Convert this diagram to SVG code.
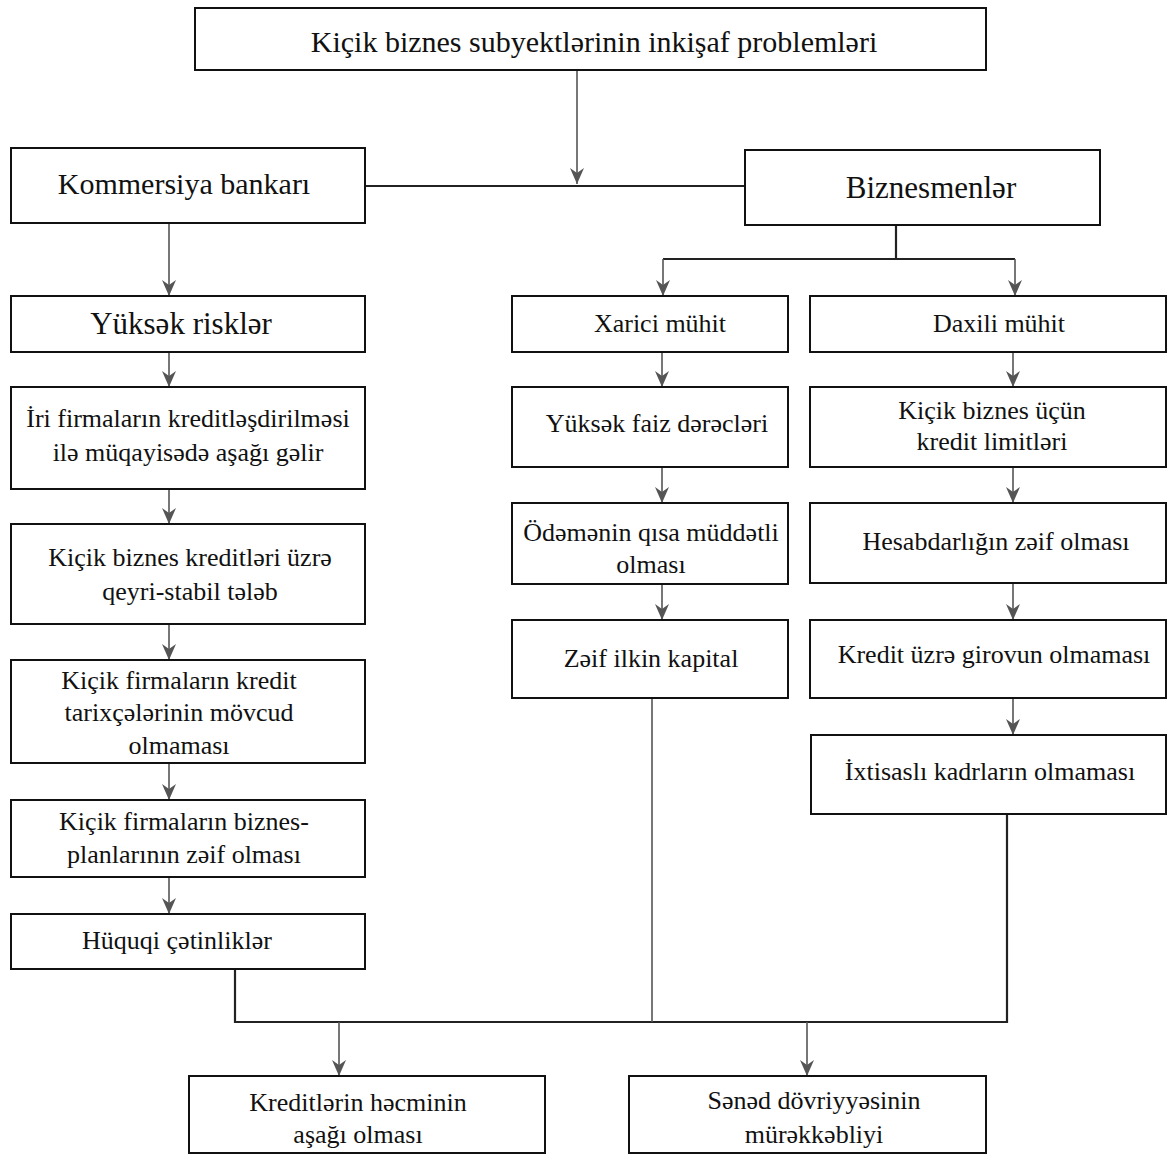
<svg xmlns="http://www.w3.org/2000/svg" width="1168" height="1155" viewBox="0 0 1168 1155">
<defs>
<style>
.box{fill:#fff;stroke:#111;stroke-width:2}
.t{font-family:"Liberation Serif","Times New Roman",serif;fill:#111;text-anchor:middle}
.f30{font-size:30px}
.f31{font-size:31px}
.f26{font-size:26px}
.c{fill:none;stroke:#555;stroke-width:1.6}
.k{fill:none;stroke:#222;stroke-width:2.2}
</style>
<marker id="ar" markerUnits="userSpaceOnUse" markerWidth="16" markerHeight="14" refX="16" refY="7" orient="auto" viewBox="0 0 16 14">
<path d="M0,0 L5,7 L0,14 L16,7 Z" fill="#555"/>
</marker>
</defs>
<rect width="1168" height="1155" fill="#fff"/>
<g id="connectors">
<path class="c" d="M577,70 V184" marker-end="url(#ar)"/>
<path class="k" d="M365,186 H745"/>
<path class="c" d="M169,223 V296" marker-end="url(#ar)"/>
<path class="k" d="M896,225 V259 M663,259 H1015"/>
<path class="c" d="M663,259 V296" marker-end="url(#ar)"/>
<path class="c" d="M1015,259 V296" marker-end="url(#ar)"/>
<path class="c" d="M169,352 V387" marker-end="url(#ar)"/>
<path class="c" d="M169,489 V524" marker-end="url(#ar)"/>
<path class="c" d="M169,624 V660" marker-end="url(#ar)"/>
<path class="c" d="M169,763 V800" marker-end="url(#ar)"/>
<path class="c" d="M169,877 V914" marker-end="url(#ar)"/>
<path class="c" d="M662,352 V387" marker-end="url(#ar)"/>
<path class="c" d="M662,467 V503" marker-end="url(#ar)"/>
<path class="c" d="M662,584 V620" marker-end="url(#ar)"/>
<path class="c" d="M1013,352 V387" marker-end="url(#ar)"/>
<path class="c" d="M1013,467 V503" marker-end="url(#ar)"/>
<path class="c" d="M1013,583 V620" marker-end="url(#ar)"/>
<path class="c" d="M1013,698 V735" marker-end="url(#ar)"/>
<path class="k" d="M235,969 V1022 H1007 V813"/>
<path class="c" d="M652,698 V1022"/>
<path class="c" d="M339,1022 V1076" marker-end="url(#ar)"/>
<path class="c" d="M807,1022 V1076" marker-end="url(#ar)"/>
</g>
<g id="n-top"><rect class="box" x="195" y="8" width="791" height="62"/><text class="t f30" x="594" y="52">Kiçik biznes subyektlərinin inkişaf problemləri</text></g>
<g id="n-bank"><rect class="box" x="11" y="148" width="354" height="75"/><text class="t f30" x="184" y="194">Kommersiya bankarı</text></g>
<g id="n-biz"><rect class="box" x="745" y="150" width="355" height="75"/><text class="t f31" x="931" y="198">Biznesmenlər</text></g>
<g id="n-risk"><rect class="box" x="11" y="296" width="354" height="56"/><text class="t f31" x="181" y="334">Yüksək risklər</text></g>
<g id="n-l2"><rect class="box" x="11" y="387" width="354" height="102"/><text class="t f26" x="188" y="427">İri firmaların kreditləşdirilməsi</text><text class="t f26" x="188" y="461">ilə müqayisədə aşağı gəlir</text></g>
<g id="n-l3"><rect class="box" x="11" y="524" width="354" height="100"/><text class="t f26" x="190" y="566">Kiçik biznes kreditləri üzrə</text><text class="t f26" x="190" y="600">qeyri-stabil tələb</text></g>
<g id="n-l4"><rect class="box" x="11" y="660" width="354" height="103"/><text class="t f26" x="179" y="689">Kiçik firmaların kredit</text><text class="t f26" x="179" y="721">tarixçələrinin mövcud</text><text class="t f26" x="179" y="754">olmaması</text></g>
<g id="n-l5"><rect class="box" x="11" y="800" width="354" height="77"/><text class="t f26" x="184" y="830">Kiçik firmaların biznes-</text><text class="t f26" x="184" y="863">planlarının zəif olması</text></g>
<g id="n-l6"><rect class="box" x="11" y="914" width="354" height="55"/><text class="t f26" x="177" y="949">Hüquqi çətinliklər</text></g>
<g id="n-xar"><rect class="box" x="512" y="296" width="276" height="56"/><text class="t f26" x="660" y="332">Xarici mühit</text></g>
<g id="n-m2"><rect class="box" x="512" y="387" width="276" height="80"/><text class="t f26" x="657" y="432">Yüksək faiz dərəcləri</text></g>
<g id="n-m3"><rect class="box" x="512" y="503" width="276" height="81"/><text class="t f26" x="651" y="541">Ödəmənin qısa müddətli</text><text class="t f26" x="651" y="573">olması</text></g>
<g id="n-m4"><rect class="box" x="512" y="620" width="276" height="78"/><text class="t f26" x="651" y="667">Zəif ilkin kapital</text></g>
<g id="n-dax"><rect class="box" x="810" y="296" width="356" height="56"/><text class="t f26" x="999" y="332">Daxili mühit</text></g>
<g id="n-r2"><rect class="box" x="810" y="387" width="356" height="80"/><text class="t f26" x="992" y="419">Kiçik biznes üçün</text><text class="t f26" x="992" y="450">kredit limitləri</text></g>
<g id="n-r3"><rect class="box" x="810" y="503" width="356" height="80"/><text class="t f26" x="996" y="550">Hesabdarlığın zəif olması</text></g>
<g id="n-r4"><rect class="box" x="810" y="620" width="356" height="78"/><text class="t f26" x="994" y="663">Kredit üzrə girovun olmaması</text></g>
<g id="n-r5"><rect class="box" x="811" y="735" width="355" height="79"/><text class="t f26" x="990" y="780">İxtisaslı kadrların olmaması</text></g>
<g id="n-b1"><rect class="box" x="189" y="1076" width="356" height="77"/><text class="t f26" x="358" y="1111">Kreditlərin həcminin</text><text class="t f26" x="358" y="1143">aşağı olması</text></g>
<g id="n-b2"><rect class="box" x="629" y="1076" width="357" height="77"/><text class="t f26" x="814" y="1109">Sənəd dövriyyəsinin</text><text class="t f26" x="814" y="1143">mürəkkəbliyi</text></g>
</svg>
